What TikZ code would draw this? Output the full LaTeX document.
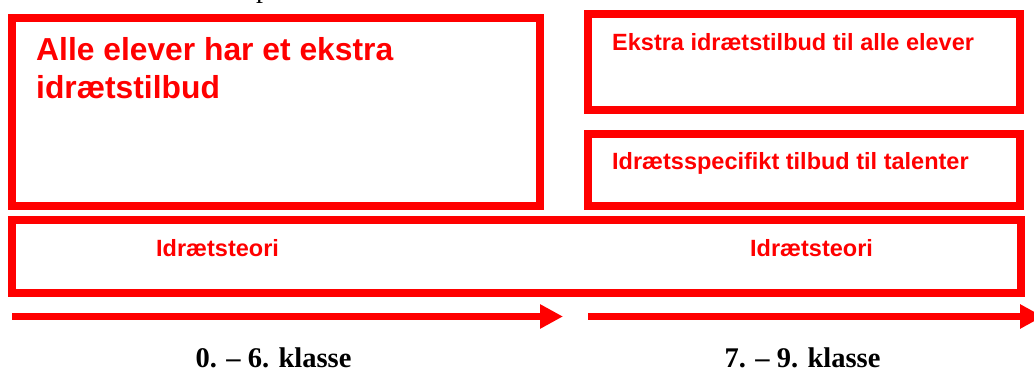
\documentclass[tikz,border=0pt]{standalone}
\usepackage{fontspec}
\setmainfont{Liberation Serif}
\newfontfamily\arialfont{Liberation Sans}
\usetikzlibrary{arrows.meta}
\definecolor{boxred}{RGB}{255,0,0}
\tikzset{
  redbox/.style={draw=boxred, line width=8pt, minimum width=#1, inner sep=0pt, outer sep=0pt},
  bigtext/.style={text=boxred, font=\arialfont\bfseries\fontsize{31.8}{38}\selectfont, inner sep=0pt, anchor=base west, align=left},
  redtext/.style={text=boxred, font=\arialfont\bfseries\fontsize{23.5}{28}\selectfont, inner sep=0pt, anchor=base west},
  gradetext/.style={text=black, font=\bfseries\fontsize{28.5}{34}\selectfont, inner sep=0pt, anchor=base},
  bigarrow/.style={draw=boxred, line width=7pt, -{Triangle[length=23pt,width=23pt]}}
}
\begin{document}
\begin{tikzpicture}[x=1pt,y=-1pt]
\useasboundingbox (0,0) rectangle (1034,371);
\begin{scope}
\clip (0,0) rectangle (1034,371);
% cut-off glyph at the top edge
\node[text=black, font=\fontsize{28}{34}\selectfont, inner sep=0pt, anchor=base west] (cutp) at (256,-2) {p};
% boxes
\node[redbox=528.5pt, minimum height=188.5pt] (boxA) at (275.75,112.25) {};
\node[redbox=432pt, minimum height=96pt] (boxB) at (804,62) {};
\node[redbox=432pt, minimum height=72pt] (boxC) at (804,170) {};
\node[redbox=1008.5pt, minimum height=72.5pt] (boxD) at (516.25,256.75) {};
% texts
\node[bigtext] (tA) at (36,99) {Alle elever har et ekstra\\idrætstilbud};
\node[redtext] (tB) at (612,51) {Ekstra idrætstilbud til alle elever};
\node[redtext] (tC) at (612,170) {Idrætsspecifikt tilbud til talenter};
\node[redtext] (tD1) at (156,257) {Idrætsteori};
\node[redtext] (tD2) at (750,257) {Idrætsteori};
% arrows
\coordinate (a1s) at (12,316.5);
\coordinate (a1e) at (563,316.5);
\coordinate (a2s) at (588,316.5);
\coordinate (a2e) at (1043,316.5);
\draw[bigarrow] (a1s) -- (a1e);
\draw[bigarrow] (a2s) -- (a2e);
% grade labels
\node[gradetext] (g1) at (273.5,367) {0. – 6. klasse};
\node[gradetext] (g2) at (802.5,367) {7. – 9. klasse};
\end{scope}
\end{tikzpicture}
\end{document}
